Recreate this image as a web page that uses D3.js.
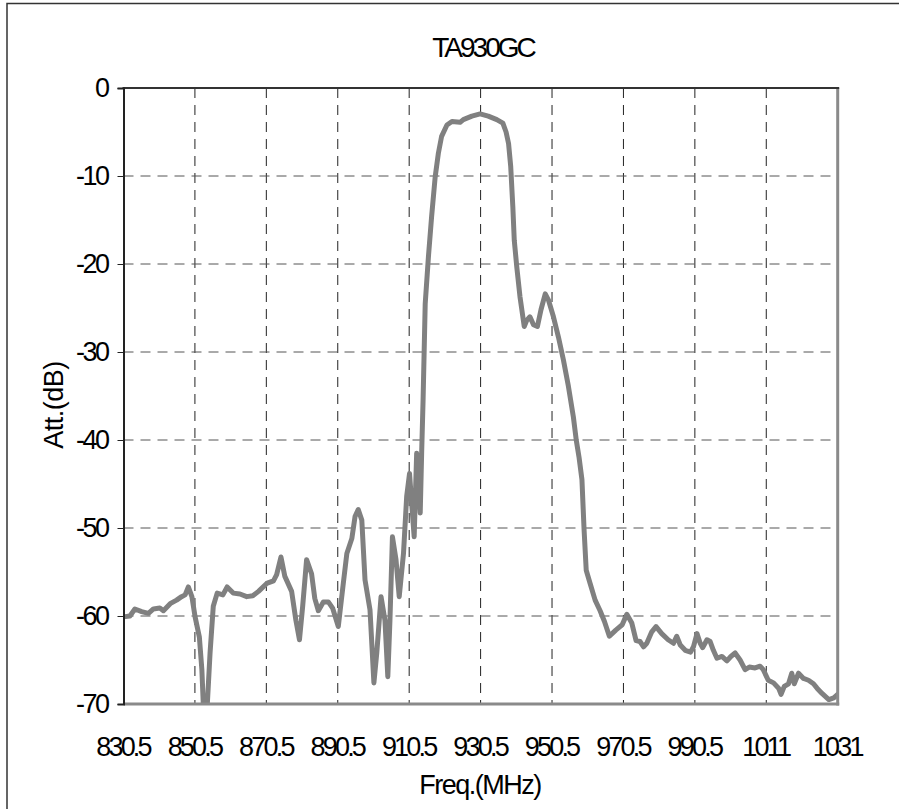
<!DOCTYPE html>
<html>
<head>
<meta charset="utf-8">
<script src="https://cdn.jsdelivr.net/npm/d3@7"></script>
<style>
  html, body { margin: 0; padding: 0; background: #fff; }
  svg { display: block; }
  text { font-family: "Liberation Sans", Arial, sans-serif; fill: #000; }
</style>
</head>
<body>
<svg id="chart" width="899" height="809"></svg>
<script>
const chartTitle = "TA930GC";
const xAxisTitle = "Freq.(MHz)";
const yAxisTitle = "Att.(dB)";
const xTickLabels = ["830.5","850.5","870.5","890.5","910.5","930.5","950.5","970.5","990.5","1011","1031"];
const yTickValues = [0, -10, -20, -30, -40, -50, -60, -70];

const freqMHz = [
  830.5, 832.3, 833.7, 835.6, 837.5, 838.9, 840.7, 841.7, 843.6, 845.4,
  846.8, 847.8, 848.7, 849.7, 850.6, 851.8, 852.5, 853.0, 853.9, 854.8,
  855.7, 856.8, 858.4, 859.6, 861.3, 863.2, 865.1, 866.8, 868.4, 870.7,
  872.6, 873.5, 874.7, 875.8, 877.7, 878.9, 879.9, 880.8, 881.9, 883.3,
  884.2, 885.2, 886.6, 888.0, 889.2, 890.8, 892.2, 893.2, 894.6, 895.5,
  896.4, 897.4, 898.3, 899.7, 900.8, 901.6, 902.8, 903.9, 904.7, 905.3,
  906.0, 907.0, 907.9, 909.1, 910.0, 910.8, 911.4, 912.1, 912.8, 913.2,
  913.8, 914.2, 914.6, 915.2, 916.1, 917.0, 918.0, 918.9, 919.8, 921.3,
  922.7, 925.0, 925.9, 928.3, 930.6, 932.9, 935.3, 937.0, 937.9, 938.6,
  939.2, 939.8, 940.2, 940.9, 941.8, 943.0, 943.7, 944.6, 945.6, 946.7,
  947.7, 948.9, 949.8, 951.2, 952.6, 954.0, 955.4, 956.8, 957.6, 958.4,
  959.2, 959.8, 960.4, 961.5, 962.9, 964.3, 965.5, 966.9, 968.7, 970.5,
  971.8, 973.2, 974.4, 975.5, 976.5, 977.4, 978.8, 980.0, 981.6, 983.4,
  984.9, 985.8, 986.8, 988.2, 989.7, 990.5, 991.5, 992.4, 993.1, 994.3,
  995.2, 996.1, 997.1, 998.5, 999.9, 1001.0, 1002.2, 1003.6, 1005.0, 1006.2,
  1007.8, 1009.2, 1010.1, 1011.5, 1013.0, 1014.4, 1015.1, 1016.0, 1017.2, 1018.1,
  1018.8, 1020.0, 1021.4, 1022.8, 1024.2, 1025.2, 1026.6, 1028.5, 1029.9, 1031.0
];
const attDb = [
  -60.1, -60.0, -59.2, -59.5, -59.7, -59.2, -59.1, -59.4, -58.6, -58.2,
  -57.8, -57.6, -56.7, -57.8, -60.1, -62.4, -66.1, -71.0, -71.0, -64.2,
  -58.9, -57.4, -57.6, -56.7, -57.4, -57.5, -57.8, -57.7, -57.2, -56.3,
  -56.0, -55.3, -53.3, -55.5, -57.2, -60.5, -62.7, -58.9, -53.6, -55.2,
  -58.0, -59.4, -58.4, -58.4, -59.1, -61.2, -56.3, -52.9, -51.2, -48.7,
  -47.9, -49.1, -55.9, -59.3, -67.6, -64.2, -57.8, -60.5, -66.9, -60.5,
  -51.0, -53.6, -57.8, -52.9, -46.4, -43.8, -47.2, -51.0, -41.5, -43.4,
  -48.3, -41.5, -35.5, -24.5, -19.2, -14.6, -10.1, -7.4, -5.5, -4.2,
  -3.8, -3.9, -3.6, -3.2, -2.95, -3.2, -3.6, -4.0, -5.0, -6.3,
  -8.9, -13.5, -17.3, -20.3, -23.7, -27.1, -26.4, -26.0, -26.9, -27.1,
  -25.2, -23.4, -24.1, -26.0, -28.3, -30.9, -33.9, -37.4, -40.0, -42.0,
  -44.5, -50.2, -54.8, -56.3, -58.2, -59.4, -60.6, -62.3, -61.6, -61.0,
  -59.8, -60.8, -62.8, -62.9, -63.5, -63.1, -61.8, -61.2, -62.0, -62.7,
  -63.1, -62.3, -63.3, -63.9, -64.1, -63.5, -62.0, -63.1, -63.6, -62.7,
  -62.9, -63.9, -64.8, -64.6, -65.1, -64.6, -64.2, -65.0, -66.1, -65.8,
  -65.9, -65.7, -66.1, -67.3, -67.6, -68.2, -68.9, -68.0, -67.7, -66.5,
  -67.7, -66.5, -67.1, -67.3, -67.7, -68.2, -68.8, -69.5, -69.3, -68.9
];

const svg = d3.select("#chart");
const W = 899, H = 809;
const plot = { left: 123.5, top: 88, right: 837.7, bottom: 704 };
const FONT = "'Liberation Sans', Arial, sans-serif";

// outer frame
svg.append("rect")
  .attr("x", 7).attr("y", 3.5).attr("width", W + 20).attr("height", H + 20)
  .attr("fill", "none").attr("stroke", "#333").attr("stroke-width", 1.5);

const xMin = 830.5, xMax = 1031;
const x = d3.scaleLinear().domain([xMin, xMax]).range([plot.left, plot.right]);
const y = d3.scaleLinear().domain([-70, 0]).range([plot.bottom, plot.top]);
const xTickValues = xTickLabels.map((_, i) => xMin + i * (xMax - xMin) / (xTickLabels.length - 1));

// grid: vertical
svg.append("g")
  .selectAll("line").data(xTickValues.slice(1, -1)).join("line")
  .attr("x1", d => x(d)).attr("x2", d => x(d))
  .attr("y1", plot.top).attr("y2", plot.bottom)
  .attr("stroke", "#222").attr("stroke-width", 1).attr("stroke-dasharray", "10,7");
// grid: horizontal
svg.append("g")
  .selectAll("line").data(yTickValues.filter(v => v !== 0 && v !== -70)).join("line")
  .attr("x1", plot.left).attr("x2", plot.right)
  .attr("y1", d => y(d)).attr("y2", d => y(d))
  .attr("stroke", "#555").attr("stroke-width", 1).attr("stroke-dasharray", "10,7");

// data line
svg.append("clipPath").attr("id", "clip")
  .append("rect").attr("x", plot.left).attr("y", plot.top)
  .attr("width", plot.right - plot.left).attr("height", plot.bottom - plot.top);

const pts = freqMHz.map((f, i) => [f, attDb[i]]);
const line = d3.line().x(d => x(d[0])).y(d => y(d[1]));
svg.append("path")
  .attr("clip-path", "url(#clip)")
  .attr("d", line(pts))
  .attr("fill", "none").attr("stroke", "#808080").attr("stroke-width", 5)
  .attr("stroke-linejoin", "round").attr("stroke-linecap", "round");

// frame of plot: right & bottom gray, top & left dark
svg.append("line").attr("x1", plot.right).attr("x2", plot.right)
  .attr("y1", plot.top).attr("y2", plot.bottom + 1.5)
  .attr("stroke", "#8a8a8a").attr("stroke-width", 3);
svg.append("line").attr("x1", plot.left).attr("x2", plot.right + 1.5)
  .attr("y1", plot.bottom).attr("y2", plot.bottom)
  .attr("stroke", "#8a8a8a").attr("stroke-width", 3);
svg.append("line").attr("x1", plot.left - 1).attr("x2", plot.right + 1.5)
  .attr("y1", plot.top).attr("y2", plot.top)
  .attr("stroke", "#333").attr("stroke-width", 2);

// y axis
const yAxis = d3.axisLeft(y).tickValues(yTickValues).tickFormat(d => String(d))
  .tickSize(6).tickPadding(10);
const gy = svg.append("g").attr("transform", `translate(${plot.left},0)`).call(yAxis);
gy.select(".domain").attr("stroke", "#222").attr("stroke-width", 2);
gy.selectAll(".tick line").attr("stroke", "#222").attr("stroke-width", 1);
gy.selectAll(".tick text")
  .style("font-family", FONT)
  .style("font-size", "27px").style("letter-spacing", "-2.5px").attr("fill", "#000");

// x axis (labels only)
const xAxis = d3.axisBottom(x).tickValues(xTickValues)
  .tickFormat((d, i) => xTickLabels[i]).tickSize(0).tickPadding(33);
const gx = svg.append("g").attr("transform", `translate(0,${plot.bottom})`).call(xAxis);
gx.select(".domain").remove();
gx.selectAll(".tick text")
  .attr("dx", "-1px")
  .style("font-family", FONT)
  .style("font-size", "27px").style("letter-spacing", "-2.8px").attr("fill", "#000");

// titles
svg.append("text").attr("x", 483).attr("y", 57).attr("text-anchor", "middle")
  .style("font-size", "28px").style("letter-spacing", "-3px").text(chartTitle);
svg.append("text").attr("x", 480).attr("y", 794).attr("text-anchor", "middle")
  .style("font-size", "27px").style("letter-spacing", "-1.5px").text(xAxisTitle);
svg.append("text").attr("transform", `translate(63,405) rotate(-90)`).attr("text-anchor", "middle")
  .style("font-size", "27px").style("letter-spacing", "-0.5px").text(yAxisTitle);
</script>
</body>
</html>
